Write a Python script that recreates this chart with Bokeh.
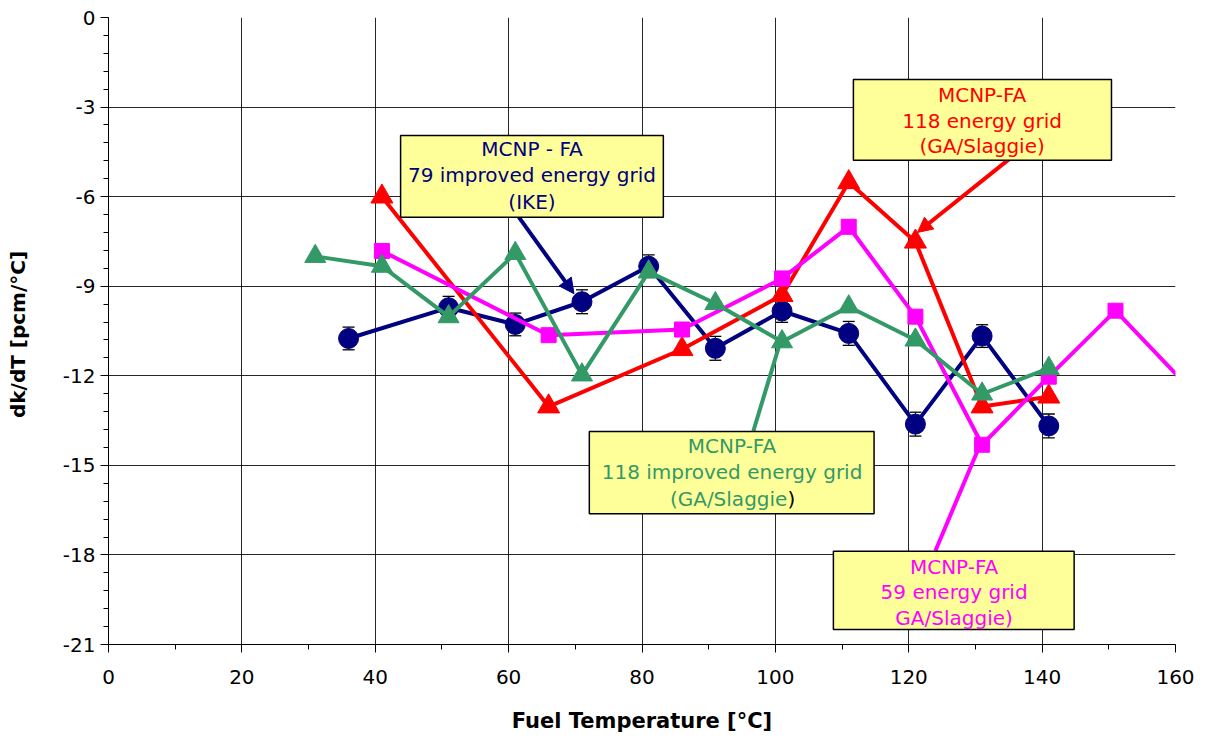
from bokeh.plotting import figure
from bokeh.models import (FixedTicker, BoxAnnotation, Label, Arrow, NormalHead,
                          Range1d)
from bokeh.embed import file_html
from bokeh.resources import INLINE

# ---------------- data ----------------
x_ticks = [0, 20, 40, 60, 80, 100, 120, 140, 160]
y_ticks = [-21, -18, -15, -12, -9, -6, -3, 0]

# MCNP - FA, 79 improved energy grid (IKE) -- navy circles with error bars
ike_x = [36, 51, 61, 71, 81, 91, 101, 111, 121, 131, 141]
ike_y = [-10.75, -9.72, -10.28, -9.52, -8.33, -11.08, -9.83, -10.58, -13.62, -10.67, -13.68]
ike_err = [0.38, 0.38, 0.38, 0.4, 0.38, 0.4, 0.38, 0.4, 0.4, 0.38, 0.4]

# MCNP-FA, 118 energy grid (GA/Slaggie) -- red triangles
g118_x = [41, 66, 86, 101, 111, 121, 131, 141]
g118_y = [-6.0, -13.03, -11.11, -9.3, -5.52, -7.51, -13.03, -12.7]

# MCNP-FA, 59 energy grid (GA/Slaggie) -- magenta squares
g59_x = [41, 66, 86, 101, 111, 121, 131, 141, 151, 171]
g59_y = [-7.82, -10.64, -10.45, -8.74, -7.01, -10.02, -14.31, -12.03, -9.82, -14.5]

# MCNP-FA, 118 improved energy grid (GA/Slaggie) -- green triangles
g118i_x = [31, 41, 51, 61, 71, 81, 91, 101, 111, 121, 131, 141]
g118i_y = [-8.0, -8.33, -10.02, -7.9, -11.97, -8.52, -9.58, -10.86, -9.69, -10.8, -12.61, -11.75]

NAVY = "#000080"
RED = "#FF0000"
MAGENTA = "#FF00FF"
GREEN = "#339966"
BOXFILL = "#FFFF99"
FONT = "DejaVu Sans"

p = figure(width=1208, height=740, x_range=Range1d(0, 160), y_range=Range1d(-21, 0),
           output_backend="svg", toolbar_location=None,
           min_border_left=108, min_border_right=33, min_border_top=17, min_border_bottom=96)
p.outline_line_color = None
p.background_fill_color = "white"
p.border_fill_color = "white"

# axes
p.xaxis.ticker = FixedTicker(ticks=x_ticks, minor_ticks=list(range(0, 161, 10)))
p.yaxis.ticker = FixedTicker(ticks=y_ticks,
                             minor_ticks=[round(-21 + 0.6 * i, 2) for i in range(36)])
p.yaxis.major_label_overrides = {v: str(v) for v in y_ticks}
for ax in (p.xaxis[0], p.yaxis[0]):
    ax.axis_line_color = "black"
    ax.axis_line_width = 1
    ax.major_tick_line_color = "black"
    ax.minor_tick_line_color = "black"
    ax.major_tick_in = 0
    ax.major_tick_out = 8
    ax.minor_tick_in = 0
    ax.minor_tick_out = 5
    ax.major_label_text_font = FONT
    ax.major_label_text_font_size = "20px"
    ax.major_label_text_color = "black"
    ax.axis_label_text_font = FONT
    ax.axis_label_text_font_style = "bold"
    ax.axis_label_text_color = "black"

p.xaxis.axis_label = "Fuel Temperature [°C]"
p.xaxis.axis_label_text_font_size = "21px"
p.xaxis.major_label_standoff = 17
p.xaxis.axis_label_standoff = 22

p.yaxis.axis_label = "dk/dT  [pcm/°C]"
p.yaxis.axis_label_text_font_size = "20px"
p.yaxis.major_label_standoff = 5
p.yaxis.axis_label_standoff = 30

p.grid.grid_line_color = "black"
p.grid.grid_line_alpha = 0.85
p.grid.grid_line_width = 1

# ---------------- series ----------------
# navy (IKE) with error bars
ike_lo = [y - e for y, e in zip(ike_y, ike_err)]
ike_hi = [y + e for y, e in zip(ike_y, ike_err)]
p.segment(x0=ike_x, y0=ike_lo, x1=ike_x, y1=ike_hi, line_color="black", line_width=1)
p.scatter(ike_x, ike_lo, marker="dash", size=12, line_color="black", line_width=1.3)
p.scatter(ike_x, ike_hi, marker="dash", size=12, line_color="black", line_width=1.3)
p.line(ike_x, ike_y, line_color=NAVY, line_width=4)
p.scatter(ike_x, ike_y, marker="circle", size=20, fill_color=NAVY, line_color=NAVY)

# red (118)
p.line(g118_x, g118_y, line_color=RED, line_width=4)
p.scatter(g118_x, g118_y, marker="triangle", size=22, fill_color=RED, line_color=RED)

# magenta (59)
p.line(g59_x, g59_y, line_color=MAGENTA, line_width=4)
p.scatter(g59_x, g59_y, marker="square", size=15, fill_color=MAGENTA, line_color=MAGENTA)

# green (118 improved)
p.line(g118i_x, g118i_y, line_color=GREEN, line_width=4)
p.scatter(g118i_x, g118i_y, marker="triangle", size=21, fill_color=GREEN, line_color=GREEN)

# ---------------- callouts ----------------
def callout(left, right, top, bottom, cx, ys, lines, color):
    p.add_layout(BoxAnnotation(left=left, right=right, top=top, bottom=bottom,
                               fill_color=BOXFILL, fill_alpha=1.0,
                               line_color="black", line_width=1.5, line_alpha=1.0))
    for yy, t in zip(ys, lines):
        if t is None:
            continue
        p.add_layout(Label(x=cx, y=yy, text=t, text_align="center", text_baseline="middle",
                           text_font=FONT, text_font_size="20px", text_color=color))

# connectors
p.add_layout(Arrow(x_start=61.5, y_start=-6.68, x_end=69.8, y_end=-9.25,
                   line_color=NAVY, line_width=4,
                   end=NormalHead(size=15, fill_color=NAVY, line_color=NAVY)))
p.add_layout(Arrow(x_start=135.2, y_start=-4.72, x_end=121.3, y_end=-7.2,
                   line_color=RED, line_width=4,
                   end=NormalHead(size=15, fill_color=RED, line_color=RED)))
p.add_layout(Arrow(x_start=96.7, y_start=-13.85, x_end=100.75, y_end=-10.86,
                   line_color=GREEN, line_width=4, end=None))
p.add_layout(Arrow(x_start=124.0, y_start=-17.86, x_end=130.7, y_end=-14.31,
                   line_color=MAGENTA, line_width=4, end=None))

callout(43.8, 83.2, -3.95, -6.69, 63.5, [-4.42, -5.28, -6.18],
        ["MCNP - FA", "79 improved energy grid", "(IKE)"], NAVY)
callout(111.7, 150.4, -2.08, -4.78, 131.0, [-2.61, -3.48, -4.31],
        ["MCNP-FA", "118 energy grid", "(GA/Slaggie)"], RED)
callout(72.1, 114.8, -13.87, -16.62, 93.5, [-14.35, -15.23, None],
        ["MCNP-FA", "118 improved energy grid", None], GREEN)
p.add_layout(Label(x=101.8, y=-16.12, text="(GA/Slaggie", text_align="right",
                   text_baseline="middle", text_font=FONT, text_font_size="20px",
                   text_color=GREEN))
p.add_layout(Label(x=101.8, y=-16.12, text=")", text_align="left",
                   text_baseline="middle", text_font=FONT, text_font_size="20px",
                   text_color="black"))
callout(108.7, 144.8, -17.88, -20.5, 126.8, [-18.4, -19.25, -20.11],
        ["MCNP-FA", "59 energy grid", "GA/Slaggie)"], MAGENTA)

open("out.html", "w").write(file_html(p, INLINE))
